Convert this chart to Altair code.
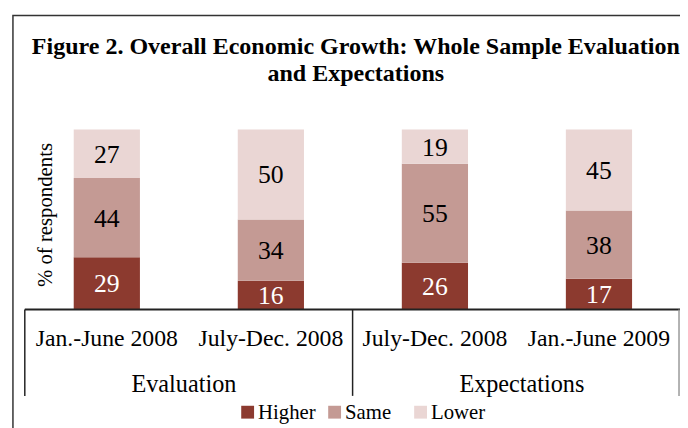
import altair as alt
import pandas as pd

# ---- data ----
keys = ["E1", "E2", "X1", "X2"]
periods = ["Jan.-June 2008", "July-Dec. 2008", "July-Dec. 2008", "Jan.-June 2009"]
groups = ["Evaluation", "Expectations"]
series = ["Higher", "Same", "Lower"]
higher = [29, 16, 26, 17]
same = [44, 34, 55, 38]
lower = [27, 50, 19, 45]
colors = ["#8c3a2f", "#c49a94", "#ead6d4"]
label_colors = ["white", "black", "black"]
title_lines = ["Figure 2. Overall Economic Growth: Whole Sample Evaluation", "and Expectations"]

FONT = "Liberation Serif"

rows = []
for i, k in enumerate(keys):
    base = 0
    for s, vals, lc in zip(series, [higher, same, lower], label_colors):
        v = vals[i]
        rows.append({"key": k, "series": s, "value": v, "y0": base, "y1": base + v,
                     "mid": base + v / 2, "lc": lc})
        base += v
df = pd.DataFrame(rows)
cats = pd.DataFrame({"key": keys, "label": periods})
one = pd.DataFrame({"k": [0]})

xscale = alt.Scale(domain=keys, range=[17, 681], paddingInner=0.5964, paddingOuter=0.2982)
yscale = alt.Scale(domain=[0, 100], range=[302.5, 120.5])
cscale = alt.Scale(domain=series, range=colors)

X = alt.X("key:N", scale=xscale, axis=None)

bars = alt.Chart(df).mark_bar().encode(
    x=X,
    y=alt.Y("y0:Q", scale=yscale, axis=None),
    y2="y1:Q",
    color=alt.Color("series:N", scale=cscale, legend=None),
)

vals = alt.Chart(df).mark_text(font=FONT, fontSize=26, baseline="middle", dy=1).encode(
    x=X,
    y=alt.Y("mid:Q", scale=yscale, axis=None),
    text="value:Q",
    color=alt.Color("lc:N", scale=None),
)

catlab = alt.Chart(cats).mark_text(font=FONT, fontSize=24, baseline="alphabetic", color="black").encode(
    x=X, y=alt.value(339.5), text="label:N"
)

layers = [bars, vals, catlab]

# frame
layers.append(alt.Chart(one).mark_rect(fill=None, stroke="#333", strokeWidth=1.5).encode(
    x=alt.value(5), x2=alt.value(720), y=alt.value(5), y2=alt.value(450)))

# axis line and separators
layers.append(alt.Chart(one).mark_rule(color="#222", strokeWidth=2).encode(
    x=alt.value(17), x2=alt.value(680), y=alt.value(302.7)))
for xv, col in [(17, "#222"), (348.7, "#222"), (679, "#999")]:
    layers.append(alt.Chart(one).mark_rule(color=col, strokeWidth=1.5).encode(
        x=alt.value(xv), y=alt.value(302.7), y2=alt.value(390)))

# group labels
for g, xv in zip(groups, [178, 520]):
    layers.append(alt.Chart(one).mark_text(font=FONT, fontSize=24.5, color="black").encode(
        x=alt.value(xv), y=alt.value(379), text=alt.value(g)))

# title
for t, yv in zip(title_lines, [37, 64]):
    layers.append(alt.Chart(one).mark_text(font=FONT, fontSize=24.3, fontWeight="bold",
                                            color="black").encode(
        x=alt.value(352), y=alt.value(yv), text=alt.value(t)))

# y title
layers.append(alt.Chart(one).mark_text(font=FONT, fontSize=21, angle=270, baseline="middle",
                                        color="black").encode(
    x=alt.value(38.5), y=alt.value(207), text=alt.value("% of respondents")))

# legend
for s, c, xv in zip(series, colors, [236, 324, 411]):
    layers.append(alt.Chart(one).mark_rect(fill=c).encode(
        x=alt.value(xv), x2=alt.value(xv + 13), y=alt.value(400), y2=alt.value(413)))
    layers.append(alt.Chart(one).mark_text(font=FONT, fontSize=21, align="left",
                                            baseline="alphabetic", color="black").encode(
        x=alt.value(xv + 17), y=alt.value(413), text=alt.value(s)))

chart = alt.layer(*layers).properties(
    width=680, height=420, autosize=alt.AutoSizeParams(type="none"), padding=0,
    background="white"
).configure_view(stroke=None)

chart.save("out.html", embed_options={"renderer": "svg", "actions": False})
